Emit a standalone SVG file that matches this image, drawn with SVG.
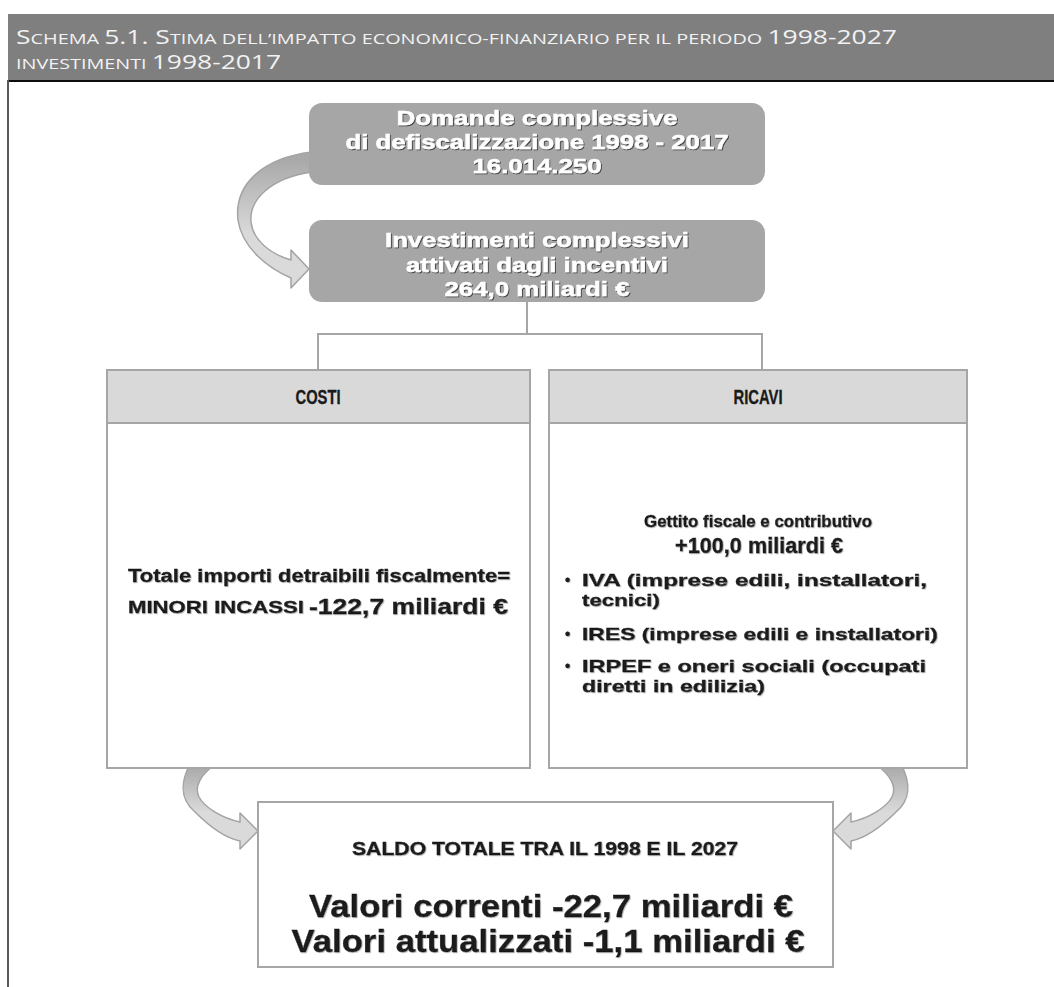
<svg xmlns="http://www.w3.org/2000/svg" width="1054" height="987" viewBox="0 0 1054 987">
<defs>
<style>
.hdr{font-family:"Open Sans","Liberation Sans",sans-serif;fill:#f2f2f2;}
.big{font-size:20px;}
.sc{font-size:15px;}
.wt{font-family:"Liberation Sans",Arial,sans-serif;font-weight:bold;font-size:21px;fill:#ffffff;stroke:#ffffff;stroke-width:0.5;text-anchor:middle;}
.dk{font-family:"Liberation Sans",Arial,sans-serif;font-weight:bold;fill:#1a1a1a;stroke:#1a1a1a;stroke-width:0.35;}
.box{fill:#ffffff;stroke:#a6a6a6;stroke-width:2;}
.hbox{fill:#d9d9d9;stroke:#a6a6a6;stroke-width:2;}
.gbox{fill:#a6a6a6;}
.conn{stroke:#a6a6a6;stroke-width:2;fill:none;}
.arr{stroke:#a3a3a3;stroke-width:1.5;stroke-linejoin:round;}
</style>
<filter id="sh" x="-5%" y="-20%" width="110%" height="140%">
<feDropShadow dx="1" dy="1" stdDeviation="0.6" flood-color="#303030" flood-opacity="0.85"/>
</filter>
<filter id="sh2" x="-5%" y="-20%" width="110%" height="140%">
<feDropShadow dx="0.8" dy="0.8" stdDeviation="0.5" flood-color="#808080" flood-opacity="0.6"/>
</filter>
<linearGradient id="gTop" gradientUnits="userSpaceOnUse" x1="0" y1="160" x2="0" y2="235">
<stop offset="0" stop-color="#a9a9a9"/><stop offset="1" stop-color="#dadada"/>
</linearGradient>
<linearGradient id="gBot" gradientUnits="userSpaceOnUse" x1="0" y1="766" x2="0" y2="812">
<stop offset="0" stop-color="#a9a9a9"/><stop offset="1" stop-color="#dadada"/>
</linearGradient>
</defs>
<rect width="1054" height="987" fill="#ffffff"/>

<g id="header">
<rect x="8" y="14" width="1046" height="66" fill="#7f7f7f"/>
<rect x="8" y="80" width="1046" height="2" fill="#0d0d0d"/>
<rect x="7" y="80" width="2" height="907" fill="#595959"/>
<text class="hdr" x="16" y="44" textLength="881" lengthAdjust="spacingAndGlyphs"><tspan class="big">S</tspan><tspan class="sc">CHEMA </tspan><tspan class="big">5.1. S</tspan><tspan class="sc">TIMA DELL’IMPATTO ECONOMICO-FINANZIARIO PER IL PERIODO </tspan><tspan class="big">1998-2027</tspan></text>
<text class="hdr" x="16" y="69" textLength="265" lengthAdjust="spacingAndGlyphs"><tspan class="sc">INVESTIMENTI </tspan><tspan class="big">1998-2017</tspan></text>
</g>

<g id="connectors">
<path class="arr" fill="url(#gTop)" d="M 312,152 C 262,158 234,185 238,220 C 242,248 268,268 291,278 L 291,288 L 309,269 L 291,250 L 291,260 C 270,254 253,240 251,222 C 249,200 270,178 312,172 Z"/>
<path class="arr" fill="url(#gBot)" d="M 190,764 C 179,785 181,800 195,812 C 208,825 225,838 240,841 L 240,849 L 258,831 L 240,813 L 240,822 C 222,818 205,808 199,797 C 194,787 200,775 216,764 Z"/>
<path class="arr" fill="url(#gBot)" transform="translate(1091,0) scale(-1,1)" d="M 190,764 C 179,785 181,800 195,812 C 208,825 225,838 240,841 L 240,849 L 258,831 L 240,813 L 240,822 C 222,818 205,808 199,797 C 194,787 200,775 216,764 Z"/>
<path class="conn" d="M 527,302 V 334 M 318,334 H 762 M 318,333 V 370 M 762,333 V 370"/>
</g>

<g id="node-domande">
<rect class="gbox" x="309" y="103" width="456" height="82" rx="13"/>
<g filter="url(#sh)">
<text class="wt" x="537" y="125" textLength="281" lengthAdjust="spacingAndGlyphs">Domande complessive</text>
<text class="wt" x="537" y="149" textLength="383" lengthAdjust="spacingAndGlyphs">di defiscalizzazione 1998 - 2017</text>
<text class="wt" x="537" y="173" textLength="129" lengthAdjust="spacingAndGlyphs">16.014.250</text>
</g>
</g>

<g id="node-investimenti">
<rect class="gbox" x="309" y="220" width="456" height="82" rx="13"/>
<g filter="url(#sh)">
<text class="wt" x="537" y="247" textLength="304" lengthAdjust="spacingAndGlyphs">Investimenti complessivi</text>
<text class="wt" x="537" y="272" textLength="262" lengthAdjust="spacingAndGlyphs">attivati dagli incentivi</text>
<text class="wt" x="537" y="296" textLength="185" lengthAdjust="spacingAndGlyphs">264,0 miliardi €</text>
</g>
</g>

<g id="node-costi">
<rect class="box" x="107" y="423" width="423" height="345"/>
<rect class="hbox" x="107" y="370" width="423" height="53"/>
<text class="dk" x="318" y="404" font-size="20" text-anchor="middle" textLength="45" lengthAdjust="spacingAndGlyphs">COSTI</text>
<g filter="url(#sh2)">
<text class="dk" x="319" y="582" font-size="18" text-anchor="middle" textLength="382" lengthAdjust="spacingAndGlyphs">Totale importi detraibili fiscalmente=</text>
<text class="dk" x="128" y="613" font-size="17" textLength="176" lengthAdjust="spacingAndGlyphs">MINORI INCASSI</text>
<text class="dk" x="309" y="614" font-size="22" textLength="199" lengthAdjust="spacingAndGlyphs">-122,7 miliardi €</text>
</g>
</g>

<g id="node-ricavi">
<rect class="box" x="549" y="423" width="418" height="345"/>
<rect class="hbox" x="549" y="370" width="418" height="53"/>
<text class="dk" x="758" y="404" font-size="20" text-anchor="middle" textLength="49" lengthAdjust="spacingAndGlyphs">RICAVI</text>
<g filter="url(#sh2)">
<text class="dk" x="758" y="527" font-size="17" text-anchor="middle" textLength="228" lengthAdjust="spacingAndGlyphs">Gettito fiscale e contributivo</text>
<text class="dk" x="759" y="553" font-size="22" text-anchor="middle" textLength="168" lengthAdjust="spacingAndGlyphs">+100,0 miliardi €</text>
<text class="dk" x="565" y="585" font-size="15">•</text>
<text class="dk" x="582" y="586" font-size="17" textLength="345" lengthAdjust="spacingAndGlyphs">IVA (imprese edili, installatori,</text>
<text class="dk" x="582" y="606" font-size="17" textLength="78" lengthAdjust="spacingAndGlyphs">tecnici)</text>
<text class="dk" x="565" y="639" font-size="15">•</text>
<text class="dk" x="582" y="640" font-size="17" textLength="356" lengthAdjust="spacingAndGlyphs">IRES (imprese edili e installatori)</text>
<text class="dk" x="565" y="671" font-size="15">•</text>
<text class="dk" x="582" y="672" font-size="17" textLength="344" lengthAdjust="spacingAndGlyphs">IRPEF e oneri sociali (occupati</text>
<text class="dk" x="582" y="692" font-size="17" textLength="183" lengthAdjust="spacingAndGlyphs">diretti in edilizia)</text>
</g>
</g>

<g id="node-saldo">
<rect class="box" x="258" y="802" width="575" height="165"/>
<g filter="url(#sh2)">
<text class="dk" x="545" y="855" font-size="18" text-anchor="middle" textLength="386" lengthAdjust="spacingAndGlyphs">SALDO TOTALE TRA IL 1998 E IL 2027</text>
<text class="dk" x="551" y="917" font-size="32" text-anchor="middle" textLength="484" lengthAdjust="spacingAndGlyphs">Valori correnti -22,7 miliardi €</text>
<text class="dk" x="548" y="952" font-size="32" text-anchor="middle" textLength="513" lengthAdjust="spacingAndGlyphs">Valori attualizzati -1,1 miliardi €</text>
</g>
</g>
</svg>
